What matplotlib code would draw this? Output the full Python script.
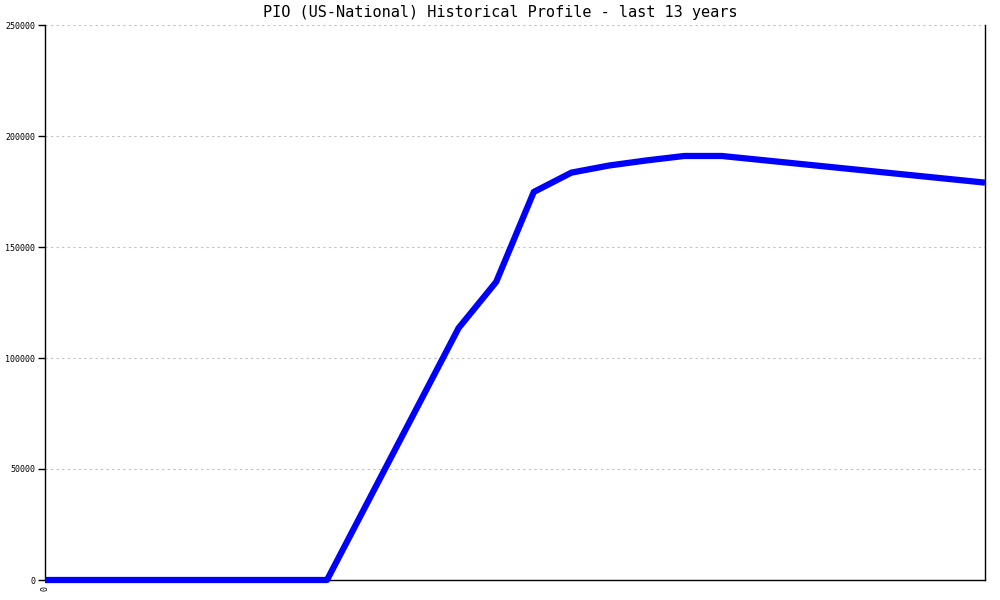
import matplotlib
matplotlib.use("Agg")
import matplotlib.pyplot as plt

title = "PIO (US-National) Historical Profile - last 13 years"
x_idx = [0, 15, 22, 24, 26, 28, 30, 32, 34, 36, 50]
values = [0, 0, 113500, 134300, 174800, 183500, 186700, 189000, 191000, 191000, 179000]
y_ticks = [0, 50000, 100000, 150000, 200000, 250000]
x_ticks = [0]
x_tick_labels = ["0"]

fig = plt.figure(figsize=(10, 6), dpi=100)
ax = fig.add_axes([0.045, 1 - 580 / 600, 0.94, 555 / 600])

ax.plot(x_idx, values, color="#0000ff", lw=4.5, solid_capstyle="butt",
        solid_joinstyle="round", zorder=5, clip_on=False)

ax.set_xlim(0, 50)
ax.set_ylim(0, 250000)
ax.set_yticks(y_ticks)
ax.set_yticklabels([str(v) for v in y_ticks], fontsize=6, family="DejaVu Sans Mono")
ax.set_xticks(x_ticks)
ax.set_xticklabels(x_tick_labels, rotation=90, fontsize=6, family="DejaVu Sans Mono")
ax.tick_params(axis="y", length=5, width=1, pad=2, color="black")
ax.tick_params(axis="x", length=0, pad=4)

for y in y_ticks[1:]:
    ax.axhline(y, color="#c0c0c0", lw=0.8, ls=(0, (2, 3)), zorder=1)

ax.spines["top"].set_visible(False)
for s in ["left", "right", "bottom"]:
    ax.spines[s].set_color("black")
    ax.spines[s].set_linewidth(1)

fig.text(0.5, 1 - 13 / 600, title, ha="center", va="center",
         fontsize=11, family="DejaVu Sans Mono")

fig.savefig("out.png", dpi=100)
